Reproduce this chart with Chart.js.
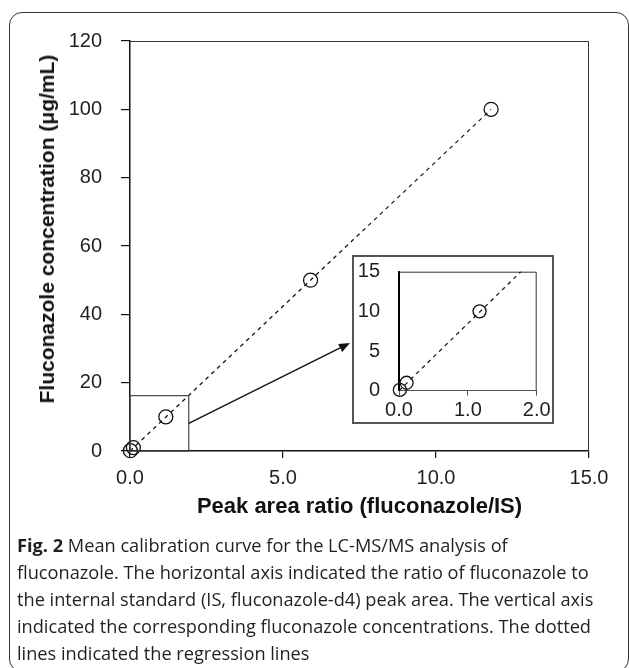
<!DOCTYPE html>
<html><head><meta charset="utf-8">
<script src="https://cdn.jsdelivr.net/npm/chart.js@4.4.1/dist/chart.umd.min.js"></script>
<style>
html,body{margin:0;padding:0;background:#fff;}
body{width:629px;height:668px;position:relative;overflow:hidden;font-family:"Liberation Sans",Arial,sans-serif;}
#frame{position:absolute;left:9px;top:12px;width:620px;height:660px;border:1.5px solid #333;border-radius:13px;box-sizing:border-box;}
#main{position:absolute;left:0;top:0;}
#insetWrap{position:absolute;left:352px;top:255px;width:202px;height:169px;border:2px solid #555;box-sizing:border-box;background:#fff;}
#inset{position:absolute;left:0;top:0;}
#ytitle{position:absolute;left:47px;top:229px;transform:translate(-50%,-50%) rotate(-90deg);white-space:nowrap;font-weight:bold;font-size:21px;color:#111;}
#caption{position:absolute;left:17px;top:532px;font-family:"Open Sans",sans-serif;font-size:18.2px;line-height:27px;color:#231f20;white-space:nowrap;}
</style>
</head><body>
<div id="frame"></div>
<canvas id="main" width="629" height="668"></canvas>
<div id="ytitle">Fluconazole concentration (μg/mL)</div>
<div id="insetWrap"><canvas id="inset" width="206" height="165"></canvas></div>
<div id="caption"><b>Fig. 2</b> Mean calibration curve for the LC-MS/MS analysis of<br>fluconazole. The horizontal axis indicated the ratio of fluconazole to<br>the internal standard (IS, fluconazole-d4) peak area. The vertical axis<br>indicated the corresponding fluconazole concentrations. The dotted<br>lines indicated the regression lines</div>
<script>
// Data
const ratioValues = [0.012, 0.11, 1.17, 5.9, 11.8];      // peak area ratio (fluconazole/IS)
const concValues  = [0.1, 1, 10, 50, 100];               // fluconazole concentration (μg/mL)
const regressionX = [0, 11.8];                           // regression line ends
const regressionY = [0, 100];
const mainXTicks = [0, 5, 10, 15];
const mainYTicks = [0, 20, 40, 60, 80, 100, 120];
const insetXTicks = [0, 1, 2];
const insetYTicks = [0, 5, 10, 15];
const zoomBoxX = [0, 1.92];                              // highlighted region in main plot
const zoomBoxY = [0, 16.2];
const arrowX = [1.92, 7.19];                             // arrow from box to inset
const arrowY = [8.1, 31.6];

Chart.defaults.font.family = '"Liberation Sans", Arial, sans-serif';
Chart.defaults.color = '#231f20';

const pts = ratioValues.map((x, i) => ({x, y: concValues[i]}));
const reg = regressionX.map((x, i) => ({x, y: regressionY[i]}));

const framePlugin = {
  id: 'frame',
  beforeDatasetsDraw(chart) {
    const {ctx, chartArea: a} = chart;
    ctx.save();
    ctx.strokeStyle = '#333';
    ctx.lineWidth = 1;
    ctx.beginPath();
    ctx.moveTo(a.left, a.top + 0.5);
    ctx.lineTo(a.right - 0.5, a.top + 0.5);
    ctx.lineTo(a.right - 0.5, a.bottom);
    ctx.stroke();
    ctx.restore();
  }
};

const zoomPlugin = {
  id: 'zoombox',
  afterDatasetsDraw(chart) {
    const {ctx, scales: {x, y}} = chart;
    ctx.save();
    ctx.strokeStyle = '#444';
    ctx.lineWidth = 1.2;
    const x0 = x.getPixelForValue(zoomBoxX[0]), x1 = x.getPixelForValue(zoomBoxX[1]);
    const y0 = y.getPixelForValue(zoomBoxY[0]), y1 = y.getPixelForValue(zoomBoxY[1]);
    ctx.strokeRect(x0, y1, x1 - x0, y0 - y1);
    const ax0 = x.getPixelForValue(arrowX[0]), ay0 = y.getPixelForValue(arrowY[0]);
    const ax1 = x.getPixelForValue(arrowX[1]), ay1 = y.getPixelForValue(arrowY[1]);
    const ang = Math.atan2(ay1 - ay0, ax1 - ax0);
    const L = 11, W = 4.5;
    const bx = ax1 - L * Math.cos(ang), by = ay1 - L * Math.sin(ang);
    ctx.strokeStyle = '#111';
    ctx.lineWidth = 1.4;
    ctx.beginPath();
    ctx.moveTo(ax0, ay0);
    ctx.lineTo(bx, by);
    ctx.stroke();
    ctx.fillStyle = '#111';
    ctx.beginPath();
    ctx.moveTo(ax1, ay1);
    ctx.lineTo(bx + W * Math.sin(ang), by - W * Math.cos(ang));
    ctx.lineTo(bx - W * Math.sin(ang), by + W * Math.cos(ang));
    ctx.closePath();
    ctx.fill();
    ctx.restore();
  }
};

function makeDatasets(r) {
  return [
    {type: 'scatter', data: reg, showLine: true, borderColor: '#111', borderWidth: 1.2,
     borderDash: [4, 4], pointRadius: 0, fill: false},
    {type: 'scatter', data: pts, pointRadius: r, pointHoverRadius: r, borderColor: '#111',
     borderWidth: 1.3, backgroundColor: 'rgba(0,0,0,0)', clip: false}
  ];
}

new Chart(document.getElementById('main'), {
  type: 'scatter',
  data: {datasets: makeDatasets(7)},
  plugins: [framePlugin, zoomPlugin],
  options: {
    responsive: false, animation: false, devicePixelRatio: 1,
    layout: {padding: {left: 0, top: 41, right: 40, bottom: 147}},
    plugins: {legend: {display: false}, tooltip: {enabled: false}},
    scales: {
      x: {
        type: 'linear', min: 0, max: 15,
        afterBuildTicks: s => { s.ticks = mainXTicks.map(v => ({value: v})); },
        afterFit: s => { s.height = 70; },
        ticks: {font: {size: 20}, padding: 8, color: '#231f20', callback: v => Number(v).toFixed(1)},
        grid: {drawOnChartArea: false, drawTicks: true, tickLength: 7, color: '#111', lineWidth: 1.2},
        border: {display: true, color: '#111', width: 1.5},
        title: {display: true, text: 'Peak area ratio (fluconazole/IS)', font: {size: 22, weight: 'bold'},
                color: '#111', padding: {top: 0, bottom: 1}}
      },
      y: {
        type: 'linear', min: 0, max: 120,
        afterBuildTicks: s => { s.ticks = mainYTicks.map(v => ({value: v})); },
        afterFit: s => { s.width = 130; },
        ticks: {font: {size: 20}, padding: 19, color: '#231f20'},
        grid: {drawOnChartArea: false, drawTicks: true, tickLength: 9, color: '#111', lineWidth: 1.2},
        border: {display: true, color: '#111', width: 1.5}
      }
    }
  }
});

new Chart(document.getElementById('inset'), {
  type: 'scatter',
  data: {datasets: makeDatasets(6.5)},
  plugins: [framePlugin],
  options: {
    responsive: false, animation: false, devicePixelRatio: 1,
    layout: {padding: {left: 0, top: 14.7, right: 23.3, bottom: 0}},
    plugins: {legend: {display: false}, tooltip: {enabled: false}},
    scales: {
      x: {
        type: 'linear', min: 0, max: 2,
        afterBuildTicks: s => { s.ticks = insetXTicks.map(v => ({value: v})); },
        afterFit: s => { s.height = 31.3; },
        ticks: {font: {size: 20}, padding: 3, color: '#231f20', callback: v => Number(v).toFixed(1)},
        grid: {drawOnChartArea: false, drawTicks: true, tickLength: 5, color: '#555', lineWidth: 1},
        border: {display: true, color: '#555', width: 1}
      },
      y: {
        type: 'linear', min: 0, max: 15,
        afterBuildTicks: s => { s.ticks = insetYTicks.map(v => ({value: v})); },
        afterFit: s => { s.width = 45; },
        ticks: {font: {size: 20}, padding: 2, color: '#231f20'},
        grid: {drawOnChartArea: false, drawTicks: true, tickLength: 17, color: 'rgba(0,0,0,0)'},
        border: {display: true, color: '#000', width: 2}
      }
    }
  }
});
</script>
</body></html>
